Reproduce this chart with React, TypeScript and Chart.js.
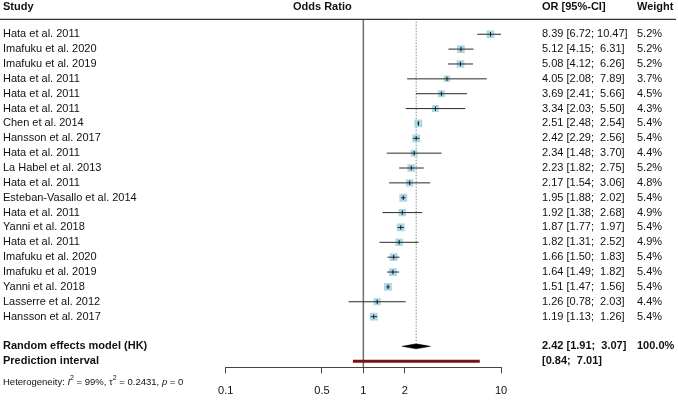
import React, { useEffect, useRef } from 'react';
import { Chart, registerables } from 'chart.js';
Chart.register(...registerables);

const studies = [
  'Hata et al. 2011', 'Imafuku et al. 2020', 'Imafuku et al. 2019', 'Hata et al. 2011',
  'Hata et al. 2011', 'Hata et al. 2011', 'Chen et al. 2014', 'Hansson et al. 2017',
  'Hata et al. 2011', 'La Habel et al. 2013', 'Hata et al. 2011', 'Esteban-Vasallo et al. 2014',
  'Hata et al. 2011', 'Yanni et al. 2018', 'Hata et al. 2011', 'Imafuku et al. 2020',
  'Imafuku et al. 2019', 'Yanni et al. 2018', 'Lasserre et al. 2012', 'Hansson et al. 2017',
];
const orValues = [8.39, 5.12, 5.08, 4.05, 3.69, 3.34, 2.51, 2.42, 2.34, 2.23, 2.17, 1.95, 1.92, 1.87, 1.82, 1.66, 1.64, 1.51, 1.26, 1.19];
const lowerCI = [6.72, 4.15, 4.12, 2.08, 2.41, 2.03, 2.48, 2.29, 1.48, 1.82, 1.54, 1.88, 1.38, 1.77, 1.31, 1.50, 1.49, 1.47, 0.78, 1.13];
const upperCI = [10.47, 6.31, 6.26, 7.89, 5.66, 5.50, 2.54, 2.56, 3.70, 2.75, 3.06, 2.02, 2.68, 1.97, 2.52, 1.83, 1.82, 1.56, 2.03, 1.26];
const weights = [5.2, 5.2, 5.2, 3.7, 4.5, 4.3, 5.4, 5.4, 4.4, 5.2, 4.8, 5.4, 4.9, 5.4, 4.9, 5.4, 5.4, 5.4, 4.4, 5.4];
const pooledOR = 2.42;
const pooledLower = 1.91;
const pooledUpper = 3.07;
const predLower = 0.84;
const predUpper = 7.01;
const xTicks = [0.1, 0.5, 1, 2, 10];

const RE_ROW = 21;
const PI_ROW = 22;
const Y_MIN = -1;
const Y_MAX = 22.41;
const FONT = "'Liberation Sans', Arial, sans-serif";

function fmtCI(est: number, lo: number, hi: number) {
  const hs = hi.toFixed(2);
  return `${est.toFixed(2)} [${lo.toFixed(2)}; ${hi < 10 ? ' ' : ''}${hs}]`;
}

const textPlugin = {
  id: 'forestText',
  afterDraw(chart: any) {
    const ctx = chart.ctx as CanvasRenderingContext2D;
    const ys = chart.scales.y;
    const yp = (v: number) => ys.getPixelForValue(v);
    ctx.save();
    ctx.fillStyle = '#111';
    ctx.textBaseline = 'middle';
    // headers
    ctx.font = `bold 11px ${FONT}`;
    ctx.textAlign = 'left';
    ctx.fillText('Study', 3, 6.5);
    ctx.fillText('Odds Ratio', 293, 6.5);
    ctx.fillText('OR [95%-CI]', 542, 6.5);
    ctx.fillText('Weight', 637, 6.5);
    // header line
    ctx.strokeStyle = '#333';
    ctx.lineWidth = 1.2;
    ctx.beginPath();
    ctx.moveTo(0, yp(Y_MIN));
    ctx.lineTo(676, yp(Y_MIN));
    ctx.stroke();
    // rows
    ctx.font = `11px ${FONT}`;
    studies.forEach((s, i) => {
      const y = yp(i);
      ctx.fillText(s, 3, y);
      ctx.fillText(fmtCI(orValues[i], lowerCI[i], upperCI[i]), 542, y);
      ctx.fillText(`${weights[i].toFixed(1)}%`, 637, y);
    });
    ctx.font = `bold 11px ${FONT}`;
    ctx.fillText('Random effects model (HK)', 3, yp(RE_ROW));
    ctx.fillText('Prediction interval', 3, yp(PI_ROW));
    ctx.fillText(fmtCI(pooledOR, pooledLower, pooledUpper), 542, yp(RE_ROW));
    ctx.fillText('100.0%', 637, yp(RE_ROW));
    ctx.fillText(`[${predLower.toFixed(2)};  ${predUpper.toFixed(2)}]`, 542, yp(PI_ROW));
    // heterogeneity
    const hy = 382.5;
    let x = 3;
    const seg = (t: string, font: string, dy = 0) => {
      ctx.font = font;
      ctx.fillText(t, x, hy + dy);
      x += ctx.measureText(t).width;
    };
    const n = `9.5px ${FONT}`;
    const it = `italic 9.5px ${FONT}`;
    const sup = `7px ${FONT}`;
    seg('Heterogeneity: ', n);
    seg('I', it);
    seg('2', sup, -4);
    seg(' = 99%, ', n);
    seg('\u03c4', n);
    seg('2', sup, -4);
    seg(' = 0.2431, ', n);
    seg('p', it);
    seg(' = 0', n);
    ctx.restore();
  },
};

export default function App() {
  const ref = useRef<HTMLCanvasElement | null>(null);
  useEffect(() => {
    document.body.style.margin = '0';
    const canvas = ref.current!;
    const datasets: any[] = [];
    // reference line at OR = 1
    datasets.push({
      data: [{ x: 1, y: Y_MIN }, { x: 1, y: Y_MAX }],
      showLine: true, borderColor: '#6e6e6e', borderWidth: 1.5, pointRadius: 0, order: 10,
    });
    // dotted line at pooled estimate
    datasets.push({
      data: [{ x: pooledOR, y: -0.85 }, { x: pooledOR, y: RE_ROW - 0.35 }],
      showLine: true, borderColor: '#888', borderWidth: 1, borderDash: [1.5, 1.5], pointRadius: 0, order: 9,
    });
    // boxes
    datasets.push({
      data: orValues.map((v, i) => ({ x: v, y: i })),
      pointStyle: 'rect',
      pointRadius: weights.map((w) => (3.35 * Math.sqrt(w)) / Math.SQRT2),
      backgroundColor: '#aad8e6', borderColor: '#aad8e6', borderWidth: 0, order: 8,
    });
    // CI lines
    orValues.forEach((_, i) => {
      datasets.push({
        data: [{ x: lowerCI[i], y: i }, { x: upperCI[i], y: i }],
        showLine: true, borderColor: '#2a2a2a', borderWidth: 1, pointRadius: 0, order: 7,
      });
    });
    // centre ticks
    datasets.push({
      data: orValues.map((v, i) => ({ x: v, y: i })),
      pointStyle: 'line', rotation: 90, pointRadius: 2.2,
      borderColor: '#111', borderWidth: 1, order: 6,
    });
    // diamond
    datasets.push({
      data: [
        { x: pooledLower, y: RE_ROW },
        { x: pooledOR, y: RE_ROW - 0.17 },
        { x: pooledUpper, y: RE_ROW },
        { x: pooledOR, y: RE_ROW + 0.17 },
        { x: pooledLower, y: RE_ROW },
      ],
      showLine: true, fill: 'shape', backgroundColor: '#000', borderColor: '#000', borderWidth: 0.5,
      pointRadius: 0, tension: 0, order: 5,
    });
    // prediction interval
    datasets.push({
      data: [{ x: predLower, y: PI_ROW }, { x: predUpper, y: PI_ROW }],
      showLine: true, borderColor: '#741414', borderWidth: 3, pointRadius: 0, order: 4,
    });

    const chart = new Chart(canvas, {
      type: 'scatter',
      data: { datasets },
      options: {
        responsive: false,
        animation: false,
        events: [],
        layout: { padding: { left: 225.7, right: 177, top: 19.4, bottom: 0 } },
        plugins: { legend: { display: false }, tooltip: { enabled: false } },
        scales: {
          x: {
            type: 'logarithmic',
            position: 'bottom',
            min: 0.1,
            max: 10,
            afterBuildTicks: (scale: any) => {
              scale.ticks = xTicks.map((v) => ({ value: v }));
            },
            afterFit: (scale: any) => {
              scale.height = 32.7;
            },
            grid: { drawOnChartArea: false, drawTicks: true, tickLength: 6, color: '#444', lineWidth: 1 },
            border: { display: true, color: '#444', width: 1 },
            ticks: {
              autoSkip: false,
              maxRotation: 0,
              padding: 11,
              color: '#111',
              font: { family: FONT, size: 11 },
              callback: (v: any) => String(v),
            },
          },
          y: {
            type: 'linear',
            display: false,
            reverse: true,
            min: Y_MIN,
            max: Y_MAX,
          },
        },
      },
      plugins: [textPlugin],
    } as any);
    return () => chart.destroy();
  }, []);
  return (
    <div style={{ width: 678, height: 400 }}>
      <canvas ref={ref} width={678} height={400} style={{ display: 'block' }} />
    </div>
  );
}
